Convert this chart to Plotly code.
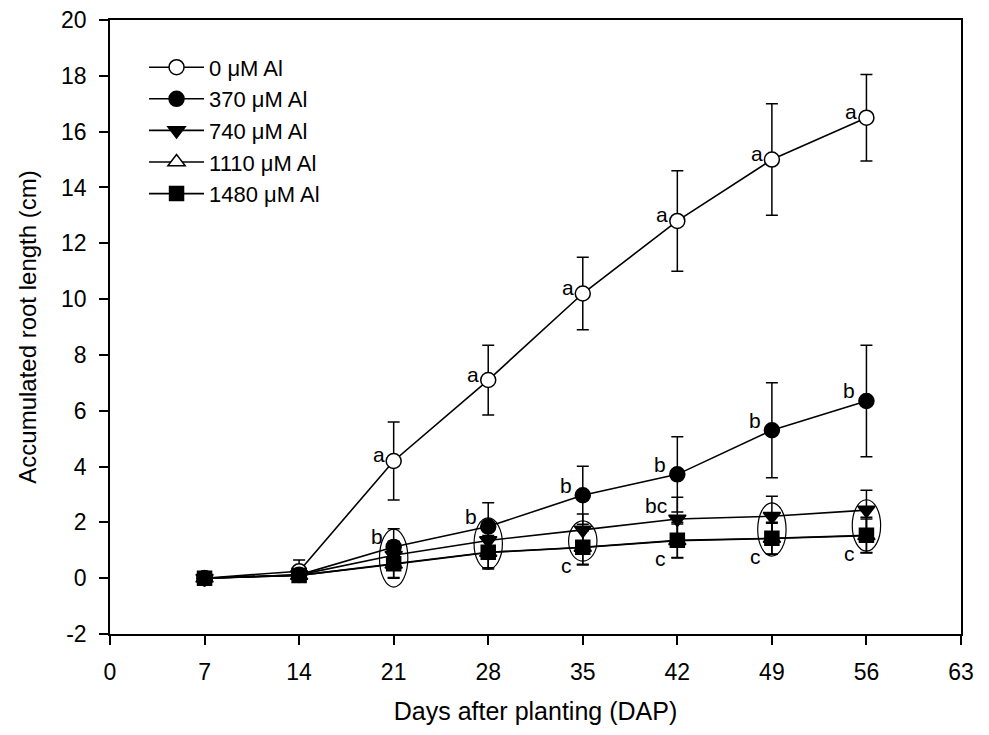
import plotly.graph_objects as go

days = [7, 14, 21, 28, 35, 42, 49, 56]

series_names = ["0 μM Al", "370 μM Al", "740 μM Al", "1110 μM Al", "1480 μM Al"]

al_0 = [0.0, 0.25, 4.2, 7.1, 10.2, 12.8, 15.0, 16.5]
al_0_err = [0.05, 0.4, 1.4, 1.25, 1.3, 1.8, 2.0, 1.55]

al_370 = [0.0, 0.12, 1.12, 1.85, 2.97, 3.72, 5.3, 6.35]
al_370_err = [0.05, 0.2, 0.65, 0.85, 1.04, 1.35, 1.7, 2.0]

al_740 = [0.0, 0.12, 0.82, 1.35, 1.73, 2.12, 2.22, 2.44]
al_740_err = [0.05, 0.2, 0.5, 0.6, 0.57, 0.78, 0.72, 0.71]

al_1110 = [0.0, 0.1, 0.5, 0.92, 1.1, 1.34, 1.42, 1.52]
al_1110_err = [0.05, 0.18, 0.5, 0.55, 0.6, 0.6, 0.55, 0.6]

al_1480 = [0.0, 0.1, 0.52, 0.93, 1.11, 1.36, 1.43, 1.54]
al_1480_err = [0.05, 0.18, 0.5, 0.6, 0.64, 0.64, 0.57, 0.64]

letters_0 = ["", "", "a", "a", "a", "a", "a", "a"]
letters_370 = ["", "", "b", "b", "b", "b", "b", "b"]
letters_740 = ["", "", "", "", "", "bc", "", ""]
letters_1480 = ["", "", "", "", "c", "c", "c", "c"]

x_ticks = [0, 7, 14, 21, 28, 35, 42, 49, 56, 63]
y_ticks = [-2, 0, 2, 4, 6, 8, 10, 12, 14, 16, 18, 20]
y_tick_labels = ["-2", "0", "2", "4", "6", "8", "10", "12", "14", "16", "18", "20"]

# ellipses grouping non-different means: (day, y_low, y_high)
ellipse_days = [21, 28, 35, 49, 56]
ellipse_low = [-0.32, 0.32, 0.61, 0.79, 0.97]
ellipse_high = [1.76, 2.16, 2.05, 2.70, 2.81]

FONT = "Arial, Liberation Sans, sans-serif"

values = [al_0, al_370, al_740, al_1110, al_1480]
errors = [al_0_err, al_370_err, al_740_err, al_1110_err, al_1480_err]
symbols = ["circle", "circle", "triangle-down", "triangle-up", "square"]
fills = ["white", "black", "black", "white", "black"]
sizes = [15, 15, 15, 15, 14]

fig = go.Figure()
draw_order = [3, 0, 1, 2, 4]
for i in draw_order:
    fig.add_trace(go.Scatter(
        x=days, y=values[i], name=series_names[i],
        mode="lines+markers",
        line=dict(color="black", width=1.6),
        marker=dict(symbol=symbols[i], size=sizes[i],
                    color=fills[i], line=dict(color="black", width=1.5)),
        error_y=dict(type="data", array=errors[i], visible=True,
                     color="black", thickness=1.5, width=6),
        legendgroup=str(i), legendrank=i + 1,
    ))

def add_letters(lbls, ys, xshift, yshift):
    for d, t, y in zip(days, lbls, ys):
        if t:
            fig.add_annotation(x=d, y=y, text=t, showarrow=False,
                               xanchor="right", yanchor="middle",
                               xshift=xshift, yshift=yshift,
                               font=dict(family=FONT, size=21, color="black"))

add_letters(letters_0, al_0, -7, 6)
add_letters(letters_370, al_370, -9, 10)
add_letters(letters_740, al_740, -8, 14)
add_letters(letters_1480, al_1480, -9, -18)

for d, lo, hi in zip(ellipse_days, ellipse_low, ellipse_high):
    fig.add_shape(type="circle", xref="x", yref="y",
                  x0=d - 1.05, x1=d + 1.05, y0=lo, y1=hi,
                  line=dict(color="black", width=1.2))

axis_common = dict(
    showline=True, linecolor="black", linewidth=1.5, mirror=True,
    ticks="outside", ticklen=9, tickwidth=1.5, tickcolor="black",
    showgrid=False, zeroline=False, automargin=False,
    ticklabeloverflow="allow",
    tickfont=dict(family=FONT, size=23, color="black"),
)

fig.update_layout(
    width=989, height=735,
    paper_bgcolor="white", plot_bgcolor="white",
    margin=dict(l=102, r=36, t=12, b=109),
    font=dict(family=FONT, color="black"),
    xaxis=dict(range=[0, 63], tickvals=x_ticks, ticklabelstandoff=8,
               title=dict(text="Days after planting (DAP)", standoff=18,
                          font=dict(family=FONT, size=25)),
               **axis_common),
    yaxis=dict(range=[-2, 20], tickvals=y_ticks, ticktext=y_tick_labels,
               ticklabelstandoff=8,
               title=dict(text="Accumulated root length (cm)", standoff=18,
                          font=dict(family=FONT, size=24)),
               **axis_common),
    legend=dict(x=0.04, y=0.957, xanchor="left", yanchor="top",
                bgcolor="rgba(0,0,0,0)", font=dict(family=FONT, size=22),
                tracegroupgap=0, itemwidth=55, traceorder="grouped"),
    showlegend=True,
)

fig.write_html("out.html")
